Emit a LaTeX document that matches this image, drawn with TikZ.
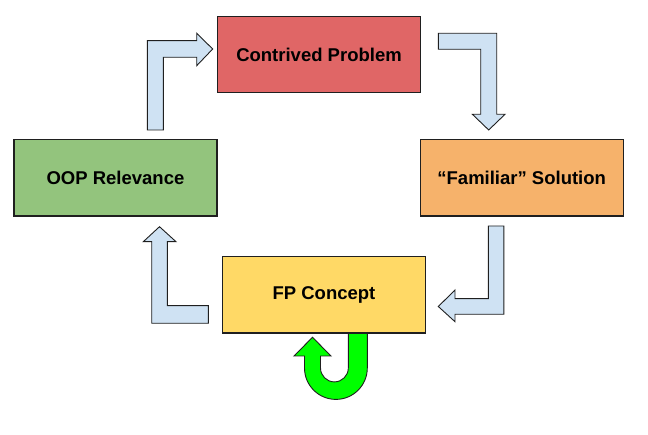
\documentclass[tikz,border=0pt]{standalone}
\usepackage{fontspec}
\setmainfont{Liberation Sans}
\definecolor{cred}{HTML}{E06666}
\definecolor{cgreen}{HTML}{93C47D}
\definecolor{corange}{HTML}{F6B26B}
\definecolor{cyellow}{HTML}{FFD966}
\definecolor{carrow}{HTML}{CFE2F3}
\definecolor{cline}{HTML}{1F1F1F}
\definecolor{cbright}{HTML}{00FF00}
\begin{document}
\begin{tikzpicture}[x=1pt,y=-1pt,
  stage/.style={draw=cline,line width=1.2pt,minimum width=203pt,minimum height=76.5pt,inner sep=0pt,
    font=\fontsize{18.5}{22}\selectfont\bfseries,text=black},
  blockarrow/.style={draw=cline,line width=0.9pt,fill=carrow,line join=miter},
  uturn/.style={draw=cline,line width=0.9pt,fill=cbright,line join=miter}]
\useasboundingbox (0,0) rectangle (648,435);

% bent block arrows
\draw[blockarrow] (147.3,130) -- (147.3,40.7) -- (196.7,40.7) -- (196.7,33.3) -- (212.7,49) -- (196.7,65.7) -- (196.7,57.3) -- (163.3,57.3) -- (163.3,130) -- cycle;
\draw[blockarrow] (438.3,33.3) -- (496.7,33.3) -- (496.7,114.3) -- (505,114.3) -- (488.7,130) -- (472.4,114.3) -- (480.7,114.3) -- (480.7,49.3) -- (438.3,49.3) -- cycle;
\draw[blockarrow] (488.3,226) -- (503.8,226) -- (503.8,314.3) -- (455,314.3) -- (455,321.7) -- (438.3,306.5) -- (455,290) -- (455,298.7) -- (488.3,298.7) -- cycle;
\draw[blockarrow] (208.3,305.7) -- (208.3,323.3) -- (151.7,323.3) -- (151.7,241.7) -- (143.3,241.7) -- (159.5,226.7) -- (176,241.7) -- (167.3,241.7) -- (167.3,305.7) -- cycle;

% green U-turn arrow
\draw[uturn] (367.3,333) -- (367.3,368) arc[start angle=0,end angle=180,radius=31.4]
  -- (304.5,356) -- (294,356) -- (312.5,337.3) -- (331,356) -- (320.5,356) -- (320.5,368)
  arc[start angle=180,end angle=0,radius=13.9] -- (348.3,333) -- cycle;

% stages
\node[stage,fill=cred]    (contrived) at (319,54.5)   {Contrived Problem};
\node[stage,fill=cgreen]  (oop)       at (115.5,177.8) {OOP Relevance};
\node[stage,fill=corange] (familiar)  at (521.7,177.8) {“Familiar” Solution};
\node[stage,fill=cyellow] (fp)        at (324,294.8)  {FP Concept};
\end{tikzpicture}
\end{document}
